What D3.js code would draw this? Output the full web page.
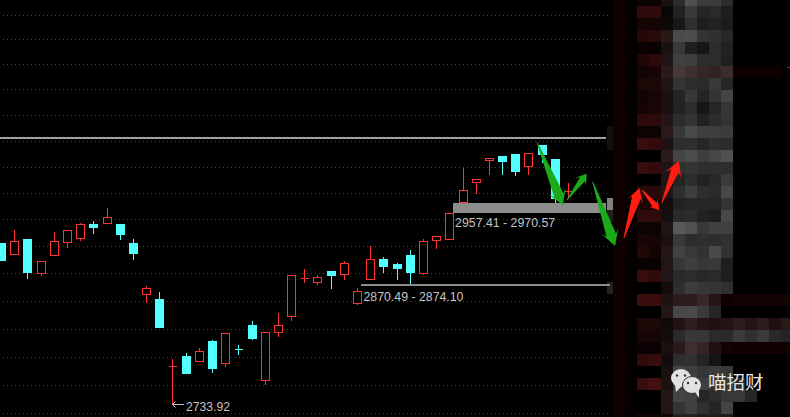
<!DOCTYPE html>
<html>
<head>
<meta charset="utf-8">
<script src="https://cdn.jsdelivr.net/npm/d3@7"></script>
<style>
  html, body { margin: 0; padding: 0; background: #000; }
  svg { display: block; }
</style>
</head>
<body>
<svg id="chart"></svg>
<script>
// candles, one entry per session
const opens = [2922.4, 2909.9, 2927.1, 2887.6, 2908.7, 2923.9, 2928.6, 2944.6, 2946.1, 2944.6, 2922.4, 2863.1, 2856.9, 2778.0, 2790.2, 2784.7, 2807.7, 2782.3, 2798.5, 2826.4, 2762.4, 2818.6, 2837.3, 2881.0, 2877.1, 2889.6, 2886.5, 2852.5, 2880.6, 2903.7, 2897.8, 2908.3, 2887.6, 2926.2, 2927.4, 2970.7, 2994.1, 3019.8, 3024.2, 3026.5, 3012.8, 3037.0, 3020.7, 2983.1];
const closes = [2902.5, 2924.7, 2888.4, 2901.3, 2924.7, 2937.6, 2944.6, 2941.1, 2952.4, 2932.9, 2910.7, 2869.7, 2824.1, 2778.1, 2770.3, 2796.0, 2776.1, 2816.7, 2798.4, 2811.2, 2817.9, 2826.1, 2884.6, 2881.1, 2882.2, 2884.9, 2898.6, 2865.9, 2903.3, 2895.5, 2893.1, 2888.4, 2924.4, 2930.2, 2957.1, 2984.0, 2996.9, 3021.5, 3018.3, 3006.6, 3027.3, 3026.5, 2975.0, 2983.2];
const highs = [2922.4, 2938.8, 2928.2, 2901.3, 2936.4, 2937.6, 2946.9, 2949.3, 2964.5, 2944.6, 2928.2, 2873.2, 2866.2, 2787.8, 2794.8, 2800.7, 2810.1, 2816.7, 2804.2, 2832.3, 2817.9, 2841.6, 2884.6, 2893.1, 2886.1, 2890.8, 2902.5, 2870.9, 2920.0, 2907.2, 2900.1, 2915.4, 2928.2, 2930.2, 2957.1, 3011.3, 2996.9, 3021.5, 3024.2, 3026.5, 3028.8, 3037.0, 3020.7, 2993.7];
const lows = [2902.5, 2909.9, 2881.4, 2884.9, 2908.7, 2918.0, 2925.9, 2934.1, 2946.1, 2927.1, 2903.7, 2853.3, 2824.1, 2733.92, 2770.3, 2784.7, 2771.4, 2778.5, 2792.5, 2810.1, 2757.4, 2813.6, 2832.3, 2876.7, 2874.4, 2869.7, 2880.3, 2851.0, 2880.6, 2888.4, 2880.3, 2875.6, 2886.5, 2916.5, 2927.4, 2970.7, 2980.9, 3003.1, 3003.1, 3001.9, 3003.1, 3017.1, 2970.3, 2975.0];

const gridLevels = [3189.13, 3161.05, 3131.8, 3102.55, 3072.13, 3041.71, 3011.29, 2980.87, 2950.45, 2918.86, 2887.27, 2854.51, 2821.75, 2788.99, 2756.23, 2723.47];
const resistanceLevel = 3045.2;
const upperZone = [2957.41, 2970.57];
const lowerZone = [2870.49, 2874.10];
const lowestPrice = 2733.92;
const lowestIndex = 13;

// hand drawn arrows: [tailIndex, tailPrice, tipIndex, tipPrice]
const greenArrows = [
  [40.61, 3040.5, 42.58, 2966.8],
  [42.88, 2972.7, 44.38, 3003.5],
  [44.83, 2994.1, 46.53, 2918.9]
];
const redArrows = [
  [47.2, 2928.2, 48.38, 2986.7],
  [48.57, 2984.4, 49.9, 2960.6],
  [50.07, 2969.2, 51.38, 3018.3]
];

// censored block on the right, one row of levels per mosaic row
const mosaicLevels = [
  [12, 12, 26, 43, 80, 60, 60, 44],
  [48, 48, 12, 34, 58, 37, 42, 30],
  [20, 20, 14, 24, 46, 30, 34, 28],
  [36, 42, 40, 74, 76, 52, 48, 40],
  [10, 10, 28, 56, 30, 22, 44, 34],
  [32, 44, 32, 64, 62, 44, 44, 32],
  [16, 24, 42, 72, 62, 54, 50, 60],
  [30, 30, 32, 52, 44, 42, 56, 38],
  [16, 24, 28, 36, 56, 36, 52, 68],
  [20, 26, 28, 34, 44, 22, 38, 54],
  [44, 44, 36, 44, 52, 32, 44, 52],
  [12, 12, 42, 56, 74, 62, 62, 60],
  [58, 52, 30, 46, 46, 38, 46, 44],
  [0, 0, 42, 68, 76, 62, 70, 80],
  [58, 50, 32, 48, 52, 46, 46, 46],
  [0, 0, 32, 36, 46, 34, 40, 58],
  [42, 42, 32, 46, 62, 46, 42, 72],
  [26, 20, 20, 34, 38, 38, 38, 52],
  [48, 48, 22, 42, 44, 34, 30, 72],
  [14, 14, 32, 88, 80, 56, 64, 64],
  [26, 20, 28, 58, 44, 46, 44, 48],
  [34, 18, 36, 66, 56, 50, 74, 50],
  [10, 10, 34, 54, 62, 54, 56, 30],
  [56, 48, 34, 42, 44, 40, 42, 30],
  [0, 0, 20, 46, 60, 54, 52, 48],
  [60, 58, 30, 44, 44, 56, 36, 16],
  [0, 0, 36, 72, 74, 58, 38, 0],
  [30, 30, 16, 34, 46, 36, 32, 36],
  [22, 22, 20, 42, 56, 54, 42, 42],
  [10, 10, 24, 42, 62, 52, 32, 18],
  [48, 58, 20, 46, 48, 36, 20, 0],
  [0, 0, 24, 68, 62, 54, 60, 56],
  [54, 68, 28, 60, 58, 62, 52, 58],
  [0, 0, 36, 68, 66, 38, 44, 56],
  [0, 0, 36, 52, 64, 48, 36, 68],
  [16, 16, 16, 34, 34, 30, 30, 30]
];
const tintedRows = [6, 25, 27, 29];
const tailRows = [6, 25, 27, 28, 29, 32, 33];
const tailLevels = [
  [14, 14, 14, 14],
  [18, 18, 18, 18, 18],
  [44, 36, 44, 32, 40],
  [58, 48, 58, 42, 36],
  [16, 16, 16, 16, 16],
  [42],
  [56, 38]
];
const edgeRows = [11, 12, 17, 18, 24];
const edgeLevels = [16, 16, 128, 32, 34];

const config = {
  width: 790,
  height: 417,
  up: "#ff3232",
  down: "#54ffff",
  grid: "#8a1c1c",
  level: "#8c8c8c",
  label: "#c4c4c4",
  bodyWidth: 9,
  gridRight: 608,
  lineRight: 606,
  mosaicX: 601,
  cell: 12
};

function buildScales() {
  return {
    x: d3.scaleLinear().domain([0, 43]).range([1.55, 568.5]),
    y: d3.scaleLinear().domain([2734, 3206.68]).range([404, 0])
  };
}

function drawGrid(svg, scales) {
  const axis = d3.axisLeft(scales.y)
    .tickValues(gridLevels)
    .tickSize(config.gridRight - 3)
    .tickFormat("");

  const g = svg.append("g")
    .attr("transform", `translate(${config.gridRight},0)`)
    .call(axis);

  g.select(".domain").remove();
  g.selectAll(".tick line")
    .attr("x2", -(config.gridRight - 3))
    .attr("stroke", config.grid)
    .attr("stroke-dasharray", "1 3");
}

function drawMosaic(svg) {
  const col = i => config.mosaicX + i * config.cell;
  const row = d3.scaleBand().domain(d3.range(mosaicLevels.length)).range([-6, -6 + mosaicLevels.length * config.cell]);
  const g = svg.append("g").attr("shape-rendering", "crispEdges");

  function cell(c, r, red, greenFactor, greenOffset) {
    const green = Math.max(0, red * greenFactor - greenOffset);
    g.append("rect")
      .attr("x", col(c))
      .attr("y", row(r))
      .attr("width", config.cell)
      .attr("height", config.cell)
      .attr("fill", d3.rgb(red, green, green).formatHex());
  }

  mosaicLevels.forEach((levels, r) => {
    cell(1, r, 16, 0, 0);
    cell(2, r, 4, 0, 0);
    const tint = tintedRows.includes(r) ? 16 : 0;
    levels.forEach((v, i) => {
      if (i < 2) cell(i + 3, r, v, 0.22, 0);
      else if (i === 2) cell(i + 3, r, v, 0.62, 0);
      else cell(i + 3, r, v, 1, tint);
    });
  });

  tailRows.forEach((r, k) => {
    const tint = tintedRows.includes(r) ? 16 : 0;
    tailLevels[k].forEach((v, i) => cell(11 + i, r, v, 1, tint));
  });

  edgeRows.forEach((r, k) => {
    g.append("rect")
      .attr("x", col(0) + 6)
      .attr("y", row(r))
      .attr("width", config.cell - 6)
      .attr("height", config.cell)
      .attr("fill", d3.rgb(edgeLevels[k], edgeLevels[k], edgeLevels[k]).formatHex());
  });

  // short red tick at the right edge of the tinted row
  g.append("rect")
    .attr("x", 787)
    .attr("y", row(6) + 1)
    .attr("width", 3)
    .attr("height", 1)
    .attr("fill", "#a02020");
}

function drawLevels(svg, scales) {
  const { x, y } = scales;
  const g = svg.append("g").attr("shape-rendering", "crispEdges");

  g.append("rect")
    .attr("x", 0)
    .attr("y", Math.round(y(resistanceLevel)) - 1)
    .attr("width", config.lineRight)
    .attr("height", 2)
    .attr("fill", "#a0a0a0");

  const zoneTop = Math.round(y(upperZone[1])) + 1;
  g.append("rect")
    .attr("x", x(34.24))
    .attr("y", zoneTop)
    .attr("width", config.lineRight - x(34.24))
    .attr("height", Math.round(y(upperZone[0])) - zoneTop)
    .attr("fill", config.level);

  g.append("rect")
    .attr("x", x(27.26))
    .attr("y", Math.round(y(lowerZone[1])))
    .attr("width", 610 - x(27.26))
    .attr("height", 2)
    .attr("fill", config.level);
}

function drawCandles(svg, scales) {
  const { x, y } = scales;
  const half = config.bodyWidth / 2;
  const cx = i => Math.floor(x(i)) + 0.5;
  const snap = v => Math.round(v) + 0.5;
  const g = svg.append("g").attr("shape-rendering", "crispEdges");

  const candles = g.selectAll("g")
    .data(d3.range(opens.length))
    .enter()
    .append("g")
    .attr("stroke", i => closes[i] >= opens[i] ? config.up : config.down);

  candles.append("line")
    .attr("x1", cx)
    .attr("x2", cx)
    .attr("y1", i => snap(y(highs[i])))
    .attr("y2", i => snap(y(lows[i])));

  // a path, so that a doji with no body height still draws its bar
  candles.append("path")
    .attr("d", i => {
      const top = snap(y(Math.max(opens[i], closes[i])));
      const bottom = snap(y(Math.min(opens[i], closes[i])));
      const left = cx(i) - half + 0.5;
      return `M${left},${top}H${left + config.bodyWidth - 1}V${bottom}H${left}Z`;
    })
    .attr("fill", i => closes[i] >= opens[i] ? "#000" : config.down);
}

function drawLabels(svg, scales) {
  const { x, y } = scales;
  const g = svg.append("g")
    .attr("font-family", "'Liberation Sans', Arial, sans-serif")
    .attr("font-size", 12.5)
    .attr("fill", config.label);

  g.append("text")
    .attr("x", x(34.4))
    .attr("y", y(upperZone[0]) + 14)
    .attr("textLength", 100)
    .attr("lengthAdjust", "spacingAndGlyphs")
    .text(`${upperZone[0].toFixed(2)} - ${upperZone[1].toFixed(2)}`);

  g.append("text")
    .attr("x", x(27.45))
    .attr("y", y(lowerZone[0]) + 14)
    .attr("textLength", 100)
    .attr("lengthAdjust", "spacingAndGlyphs")
    .text(`${lowerZone[0].toFixed(2)} - ${lowerZone[1].toFixed(2)}`);

  const lx = Math.floor(x(lowestIndex));
  const ly = Math.round(y(lowestPrice)) + 0.5;

  g.append("text")
    .attr("x", lx + 14)
    .attr("y", ly + 6)
    .attr("textLength", 44)
    .attr("lengthAdjust", "spacingAndGlyphs")
    .text(lowestPrice.toFixed(2));

  g.append("path")
    .attr("d", `M${lx + 12},${ly}H${lx + 0.5}M${lx + 3.5},${ly - 3}L${lx + 0.5},${ly}L${lx + 3.5},${ly + 3}`)
    .attr("fill", "none")
    .attr("stroke", config.label);
}

function arrowPath(tx, ty, hx, hy, headLen, headWidth, shaft) {
  const len = Math.hypot(hx - tx, hy - ty);
  const ux = (hx - tx) / len;
  const uy = (hy - ty) / len;
  const at = (along, side) => [tx + ux * along - uy * side, ty + uy * along + ux * side];
  const neck = len - headLen * 0.72;
  const barb = len - headLen;
  return d3.line()([
    at(0, -0.4),
    at(neck, -shaft / 2),
    at(barb, -headWidth / 2),
    at(len, 0),
    at(barb, headWidth / 2),
    at(neck, shaft / 2),
    at(0, 0.4)
  ]) + "Z";
}

function drawArrows(svg, scales) {
  const { x, y } = scales;
  const draw = (list, color, sizes) => {
    svg.append("g")
      .selectAll("path")
      .data(list)
      .enter()
      .append("path")
      .attr("fill", color)
      .attr("d", (a, i) => arrowPath(x(a[0]), y(a[1]), x(a[2]), y(a[3]), sizes[i][0], sizes[i][1], sizes[i][2]));
  };
  draw(greenArrows, "#1aaa1a", [[15, 18, 10], [10, 13, 6], [16, 18, 10]]);
  draw(redArrows, "#ff1c10", [[14, 16, 9], [10, 12, 6], [15, 17, 8]]);
}

function drawWatermark(svg) {
  const g = svg.append("g");
  const white = "#e2e2e2";

  g.append("ellipse").attr("cx", 681).attr("cy", 378).attr("rx", 10).attr("ry", 9).attr("fill", white);
  g.append("path").attr("d", "M675,385L676,392L682,386Z").attr("fill", white);
  g.append("ellipse").attr("cx", 692).attr("cy", 385).attr("rx", 9.5).attr("ry", 8.5)
    .attr("fill", white).attr("stroke", "#333").attr("stroke-width", 1);
  g.append("path").attr("d", "M695,392L699,398L699,390Z").attr("fill", white);

  [[677, 375.5], [685, 375.5], [688, 383], [696, 383]].forEach(p => {
    g.append("circle").attr("cx", p[0]).attr("cy", p[1]).attr("r", 1.2).attr("fill", "#333");
  });

  g.append("text")
    .attr("x", 708)
    .attr("y", 389)
    .attr("font-family", "'Noto Sans CJK SC', sans-serif")
    .attr("font-size", 18.5)
    .attr("fill", "#e8e8e8")
    .text("喵招财");
}

function renderChart() {
  const svg = d3.select("#chart")
    .attr("width", config.width)
    .attr("height", config.height)
    .style("background", "#000");
  const scales = buildScales();

  drawGrid(svg, scales);
  drawMosaic(svg);
  drawLevels(svg, scales);
  drawCandles(svg, scales);
  drawLabels(svg, scales);
  drawArrows(svg, scales);
  drawWatermark(svg);
}

renderChart();
</script>
</body>
</html>
